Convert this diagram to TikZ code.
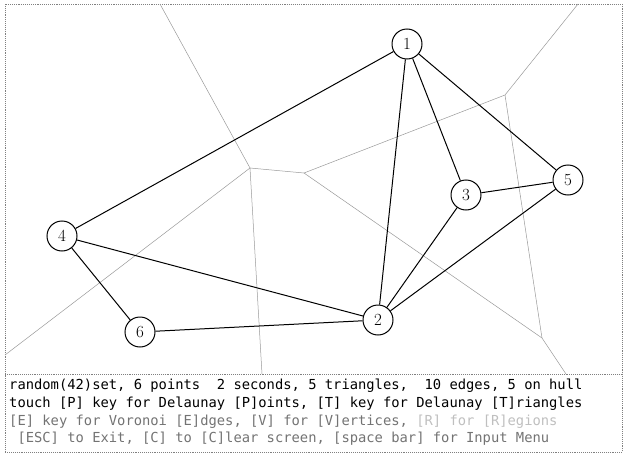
\documentclass[tikz,border=0pt]{standalone}
\usepackage{fontspec}
\newfontfamily\screenfont{DejaVu Sans Mono}
\usetikzlibrary{positioning}

\begin{document}
\begin{tikzpicture}[x=1pt,y=-1pt,
  site/.style={circle,draw,line width=1pt,fill=white,minimum size=30pt,inner sep=0pt,font=\fontsize{17}{17}\selectfont},
  delaunay/.style={line width=1pt},
  voronoi/.style={black!40,line width=0.5pt},
  frameline/.style={black!50,densely dotted,line width=0.9pt},
  msg/.style={anchor=west,inner sep=0pt,font=\screenfont\fontsize{13.8}{15}\selectfont}]
\useasboundingbox (0,0) rectangle (627,455);
% screen frame and message panel
\draw[frameline] (5,4) rectangle (622,452);
\draw[frameline] (5,374) -- (622,374);
% voronoi vertices and border ends
\path coordinate (va) at (250,168)
      coordinate (vb) at (304,173)
      coordinate (vc) at (505,95)
      coordinate (vd) at (542,338)
      coordinate (ta) at (160,4)
      coordinate (tc) at (578,4)
      coordinate (la) at (5,355)
      coordinate (ba) at (262,374)
      coordinate (bd) at (566,374);
\draw[voronoi] (ta) -- (va) -- (vb) -- (vc) -- (tc);
\draw[voronoi] (la) -- (va) -- (ba);
\draw[voronoi] (vb) -- (vd) -- (bd);
\draw[voronoi] (vc) -- (vd);
% delaunay points
\node[site] (p1) at (407,44) {1};
\node[site] (p2) at (378,320) {2};
\node[site] (p3) at (466,195) {3};
\node[site] (p4) at (62,236) {4};
\node[site] (p5) at (568,180) {5};
\node[site] (p6) at (140,332) {6};
\draw[delaunay] (p1) -- (p4);
\draw[delaunay] (p1) -- (p2);
\draw[delaunay] (p1) -- (p3);
\draw[delaunay] (p1) -- (p5);
\draw[delaunay] (p3) -- (p5);
\draw[delaunay] (p3) -- (p2);
\draw[delaunay] (p5) -- (p2);
\draw[delaunay] (p4) -- (p2);
\draw[delaunay] (p4) -- (p6);
\draw[delaunay] (p6) -- (p2);
% status lines
\node[msg] (line1) at (9,386) {random(42)set, 6 points\ \ 2 seconds, 5 triangles,\ \ 10 edges, 5 on hull};
\node[msg] (line2) at (9,404) {touch [P] key for Delaunay [P]oints, [T] key for Delaunay [T]riangles};
\node[msg,black!55] (line3) at (9,422) {[E] key for Voronoi [E]dges, [V] for [V]ertices, \textcolor{black!25}{[R] for [R]egions}};
\node[msg,black!55] (line4) at (9,439) {\ [ESC] to Exit, [C] to [C]lear screen, [space bar] for Input Menu};
\end{tikzpicture}
\end{document}
